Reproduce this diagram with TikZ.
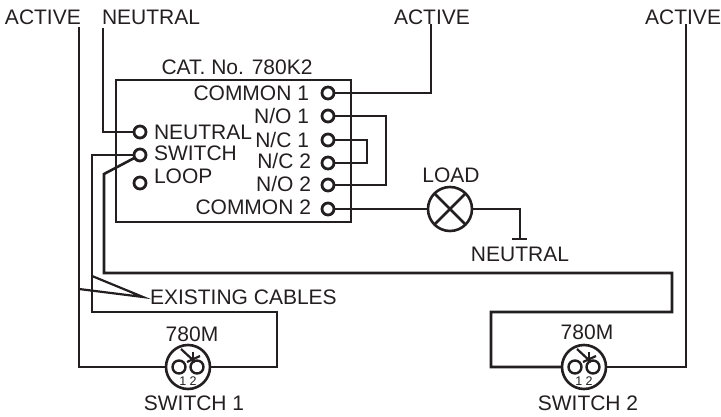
\documentclass[tikz,border=0pt]{standalone}
\usepackage{fontspec}
\setmainfont{Liberation Sans}
\definecolor{myink}{RGB}{35,31,32}
\usetikzlibrary{positioning,calc}
\tikzset{>=latex}
\begin{document}
\begin{tikzpicture}[x=1pt, y=-1pt, every node/.style={text=myink, font=\fontsize{21}{24}\selectfont, inner sep=0pt, outer sep=0pt}, wire/.style = {draw=myink, line width=2.6pt, line join=miter}, thinwire/.style = {draw=myink, line width=2.2pt}, term/.style = {draw=myink, line width=2.8pt, circle, fill=white, minimum size=12pt}, symb/.style = {draw=myink, line width=2.6pt, circle, minimum size=44pt}, smallring/.style = {draw=myink, line width=2.4pt, circle, minimum size=13pt}]
                    \useasboundingbox (0,0) rectangle (721,417);
                    \node[wire, minimum width=235pt, minimum height=142pt] (unit) at (233.5,151) {};
                    % terminals on the right of the unit
                    \foreach \i/\y/\ly/\rx/\lab in {1/93/93/309/{COMMON 1}, 2/116/116/309/{N/O 1}, 3/140/140/309/{N/C 1}, 4/163/161/311/{N/C 2}, 5/185/184/311/{N/O 2}, 6/209/207/311/{COMMON 2}}
                    {%
                        \node[term] (R\i) at (328,\y) {};
                        \node[anchor=east] (labR\i) at (\rx,\ly) {\lab};
                    };
                    % terminals on the left of the unit
                    \foreach \i/\y/\ly/\lab in {1/132/132/NEUTRAL, 2/155/153/SWITCH, 3/183/176/LOOP}
                    {%
                        \node[term] (L\i) at (140,\y) {};
                        \node[anchor=west] (labL\i) at (154,\ly) {\lab};
                    };
                    % the two switches
                    \foreach \i/\x/\lx/\ty/\nx in {1/188/192/334/194, 2/584/587/332/588}
                    {%
                        \node[symb] (sw\i) at (\x,367) {};
                        \node[smallring] (ringA\i) at (\x-9,367) {};
                        \node[smallring] (ringB\i) at (\x+9,367) {};
                        \coordinate (armA\i) at (\x-7,349);
                        \coordinate (armB\i) at (\x+7,362);
                        \coordinate (armC\i) at (\x-1,362);
                        \coordinate (armD\i) at (\x+12,356);
                        \coordinate (armE\i) at (\x+5,352);
                        \coordinate (armF\i) at (\x+5,363);
                        \draw[thinwire] (armA\i) -- (armB\i);
                        \draw[thinwire] (armC\i) -- (armD\i);
                        \draw[thinwire] (armE\i) -- (armF\i);
                        \node[font=\fontsize{12.5}{14}\selectfont] (pins\i) at (\x,381) {1 2};
                        \node (type\i) at (\lx,\ty) {780M};
                        \node (name\i) at (\nx,403) {SWITCH \i};
                    };
                    \node[symb] (load) at (450,209) {};
                    \draw[wire] (load.45) -- (load.225);
                    \draw[wire] (load.135) -- (load.315);
                    % texts
                    \node[anchor=west] (activeA) at (5,17) {ACTIVE};
                    \node[anchor=west] (neutralA) at (102,17) {NEUTRAL};
                    \node (activeB) at (432,17) {ACTIVE};
                    \node[anchor=east] (activeC) at (721,17) {ACTIVE};
                    \node (cat) at (237,67) {CAT. No. 780K2};
                    \node (loadlab) at (451,175) {LOAD};
                    \node (neutralB) at (520,254) {NEUTRAL};
                    \node[anchor=west] (cables) at (150,297) {EXISTING CABLES};
                    % free ends and bends
                    \coordinate (endA) at (79,27);
                    \coordinate (endN) at (103,28);
                    \coordinate (endB) at (431,24);
                    \coordinate (endC) at (686,24);
                    \coordinate (bendA) at (277,312);
                    \coordinate (bendB) at (92,155);
                    \coordinate (bendC) at (104,174);
                    \coordinate (bendD) at (104,273);
                    \coordinate (bendE) at (672,273);
                    \coordinate (bendF) at (491,312);
                    \coordinate (linkA) at (386,150);
                    \coordinate (linkB) at (367,150);
                    \coordinate (earth) at (520,239);
                    \coordinate (earthL) at (512,239);
                    \coordinate (earthR) at (527,239);
                    \coordinate (tip) at (143,297);
                    \coordinate (tipA) at (92,276);
                    \coordinate (tipB) at (79,289);
                    % wiring
                    \draw[wire] (endA) |- (sw1);
                    \draw[wire] (endN) |- (L1);
                    \draw[wire] (sw1) -| (bendA) -| (bendB) -- (L2);
                    \draw[wire] (L2) -- (bendC) -- (bendD) -- (bendE) |- (bendF) |- (sw2);
                    \draw[wire] (sw2) -| (endC);
                    \draw[wire] (R1) -| (endB);
                    \draw[wire] (R2) -| (linkA) |- (R5);
                    \draw[wire] (R3) -| (linkB) |- (R4);
                    \draw[wire] (R6) -- (load);
                    \draw[wire] (load) -| (earth);
                    \draw[wire] (earthL) -- (earthR);
                    \draw[thinwire] (tipA) -- (tip) -- (tipB);
            \end{tikzpicture}
\end{document}
